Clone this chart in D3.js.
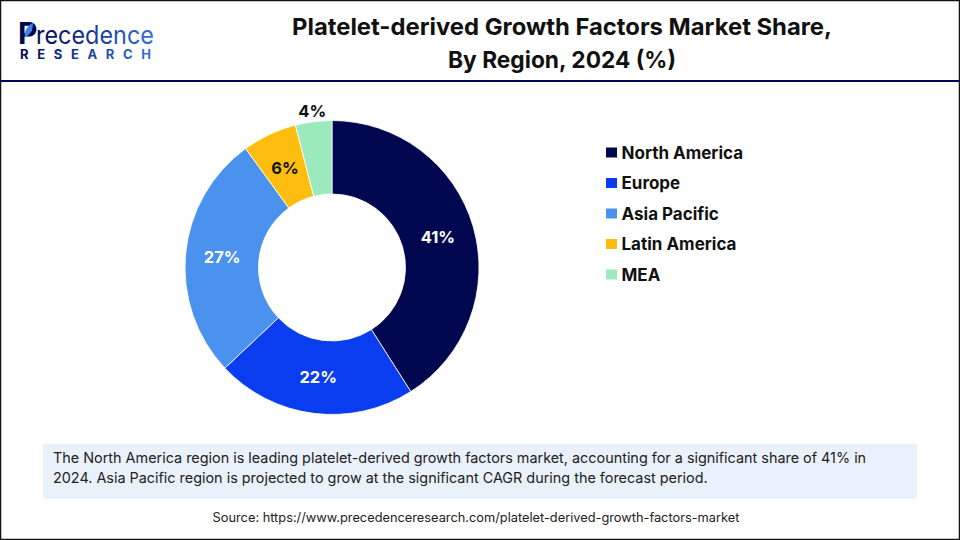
<!DOCTYPE html>
<html>
<head>
<meta charset="utf-8">
<script src="https://cdn.jsdelivr.net/npm/d3@7"></script>
<style>
  html, body { margin: 0; padding: 0; background: #fff; }
  svg { display: block; }
  text { font-family: "Inter", "Noto Sans", sans-serif; }
</style>
</head>
<body>
<svg id="chart" width="960" height="540"></svg>
<script>
// Chart data
const regions = ["North America", "Europe", "Asia Pacific", "Latin America", "MEA"];
const shares = [41, 22, 27, 6, 4];
const regionColors = ["#02084f", "#0a3cf0", "#4a92ee", "#ffbe0f", "#9aeabd"];
const titleLines = ["Platelet-derived Growth Factors Market Share,", "By Region, 2024 (%)"];
const titleWidths = [540, 228];
const noteLines = [
    "The North America region is leading platelet-derived growth factors market, accounting for a significant share of 41% in",
    "2024. Asia Pacific region is projected to grow at the significant CAGR during the forecast period."
];
const sourceText = "Source: https://www.precedenceresearch.com/platelet-derived-growth-factors-market";

const svg = d3.select("#chart");
const navy = "#02084f";

// Frame and header rule
svg.append("rect").attr("x", 0.5).attr("y", 0.5).attr("width", 959).attr("height", 539)
    .attr("fill", "#fff").attr("stroke", "#111").attr("stroke-width", 1.5);
svg.append("line").attr("x1", 0).attr("x2", 960).attr("y1", 81).attr("y2", 81)
    .attr("stroke", navy).attr("stroke-width", 2);

// Logo, as text with a small leaf on the P
const logo = svg.append("g");
const logoGrad = svg.append("defs").append("linearGradient").attr("id", "logoGrad");
logoGrad.append("stop").attr("offset", "0%").attr("stop-color", navy);
logoGrad.append("stop").attr("offset", "100%").attr("stop-color", "#2f6fe0");
logo.append("text").attr("x", 18).attr("y", 44)
    .attr("font-size", 30).attr("font-weight", 700).attr("fill", navy).text("P");
logo.append("path").attr("d", "M33 23 C27 26 24 31 25 37 C30 35 33 30 33 23 Z").attr("fill", "#3f86e8");
logo.append("text").attr("x", 36).attr("y", 44)
    .attr("font-size", 25).attr("font-weight", 400).attr("fill", "url(#logoGrad)")
    .attr("textLength", 118).attr("lengthAdjust", "spacingAndGlyphs").text("recedence");
logo.append("text").attr("x", 20).attr("y", 58.5)
    .attr("font-size", 13).attr("font-weight", 700).attr("fill", "url(#logoGrad)")
    .attr("textLength", 131).text("RESEARCH");

// Title
svg.append("g").selectAll("text").data(titleLines).join("text")
    .attr("x", 562)
    .attr("y", (d, i) => 35 + i * 33)
    .attr("text-anchor", "middle")
    .attr("font-size", 23.5)
    .attr("font-weight", 700)
    .attr("fill", "#111")
    .attr("textLength", (d, i) => titleWidths[i])
    .attr("lengthAdjust", "spacingAndGlyphs")
    .text(d => d);

// Donut
const cx = 332, cy = 267.5, outerR = 147, innerR = 73.5;
const pie = d3.pie().sort(null).value(d => d);
const arc = d3.arc().innerRadius(innerR).outerRadius(outerR);
const labelArc = d3.arc().innerRadius((innerR + outerR) / 2).outerRadius((innerR + outerR) / 2);
const slices = pie(shares);
const donut = svg.append("g").attr("transform", `translate(${cx},${cy})`);

donut.selectAll("path").data(slices).join("path")
    .attr("d", arc)
    .attr("fill", (d, i) => regionColors[i])
    .attr("stroke", "#fff")
    .attr("stroke-width", 0.8);

donut.selectAll("text").data(slices).join("text")
    .attr("transform", (d, i) => {
        // the smallest slice has its label outside the ring
        if (i === 4) {
            const a = (d.startAngle + d.endAngle) / 2;
            return `translate(${Math.sin(a) * (outerR + 11)},${-Math.cos(a) * (outerR + 11)})`;
        }
        return `translate(${labelArc.centroid(d)})`;
    })
    .attr("text-anchor", "middle")
    .attr("dominant-baseline", "central")
    .attr("font-size", 16.5)
    .attr("font-weight", 700)
    .attr("fill", (d, i) => i < 3 ? "#fff" : "#111")
    .text((d, i) => shares[i] + "%");

// Legend
const legendY = d3.scalePoint().domain(regions).range([152.5, 274.5]);
const legend = svg.append("g").selectAll("g").data(regions).join("g")
    .attr("transform", d => `translate(606,${legendY(d)})`);
legend.append("rect").attr("x", 0).attr("y", -5).attr("width", 11).attr("height", 10)
    .attr("fill", (d, i) => regionColors[i]);
legend.append("text").attr("x", 15.5).attr("y", 0)
    .attr("dominant-baseline", "central")
    .attr("font-size", 17).attr("font-weight", 700).attr("fill", "#111")
    .text(d => d);

// Note box
svg.append("rect").attr("x", 43).attr("y", 444).attr("width", 874).attr("height", 55)
    .attr("rx", 2).attr("fill", "#e9f1fa");
svg.append("g").selectAll("text").data(noteLines).join("text")
    .attr("x", 53)
    .attr("y", (d, i) => 463 + i * 20)
    .attr("font-family", "Open Sans")
    .attr("font-size", 14.4)
    .attr("fill", "#222")
    .text(d => d);

// Source
svg.append("text").attr("x", 476).attr("y", 522)
    .attr("text-anchor", "middle")
    .attr("font-family", "Open Sans")
    .attr("font-size", 12.8)
    .attr("fill", "#222")
    .text(sourceText);
</script>
</body>
</html>
